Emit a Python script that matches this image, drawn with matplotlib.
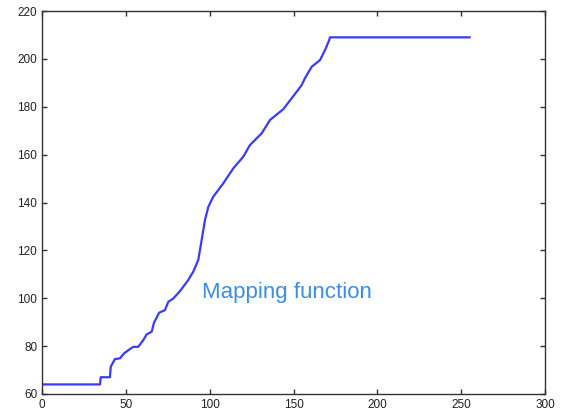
import matplotlib
matplotlib.use("Agg")
import matplotlib.pyplot as plt

x_vals = [0, 34.6, 35, 40.5, 41, 43.5, 46.5, 49, 51.5, 54.4, 57.4, 60.4, 62.4, 65.4,
          66.8, 69.9, 73.3, 75.3, 78.3, 82.3, 87.2, 90.2, 93.2, 95.2, 97.2, 99.2,
          102.1, 108.1, 114.1, 120, 124, 131, 136, 143.9, 151.9, 154.8, 156.8,
          160.8, 165.8, 168.8, 171.3, 171.7, 255]
y_vals = [64, 64, 67, 67, 71.4, 74.6, 74.9, 77, 78.3, 79.7, 79.7, 82.5, 84.9, 86,
          89.8, 94, 95, 98.5, 99.9, 103, 107.6, 111.1, 116, 124.3, 132.7, 138.2,
          142.4, 148, 154.3, 159.1, 164, 168.9, 174.5, 179, 186.3, 189, 191.9,
          196.7, 199.5, 203.7, 207.9, 209, 209]
x_ticks = [0, 50, 100, 150, 200, 250, 300]
y_ticks = [60, 80, 100, 120, 140, 160, 180, 200, 220]
label = "Mapping function"

plt.rcParams['font.family'] = ['Liberation Sans', 'DejaVu Sans']
fig = plt.figure(figsize=(5.66, 4.19), dpi=100)
ax = fig.add_axes([0.0742, 0.0597, 0.8888, 0.914])
ax.plot(x_vals, y_vals, color='#3a3aff', lw=1.6)
ax.set_xlim(0, 300)
ax.set_ylim(60, 220)
ax.set_xticks(x_ticks)
ax.set_yticks(y_ticks)
ax.tick_params(direction='in', top=True, right=True, length=3.5, width=1,
               labelsize=8.5, labelcolor='#222222', color='#333333')
for s in ax.spines.values():
    s.set_color('#333333')
    s.set_linewidth(1.0)
ax.text(95.2, 100, label, color='#3a8ee6', fontsize=16, va='baseline', ha='left')
fig.savefig("out.png", dpi=100)
